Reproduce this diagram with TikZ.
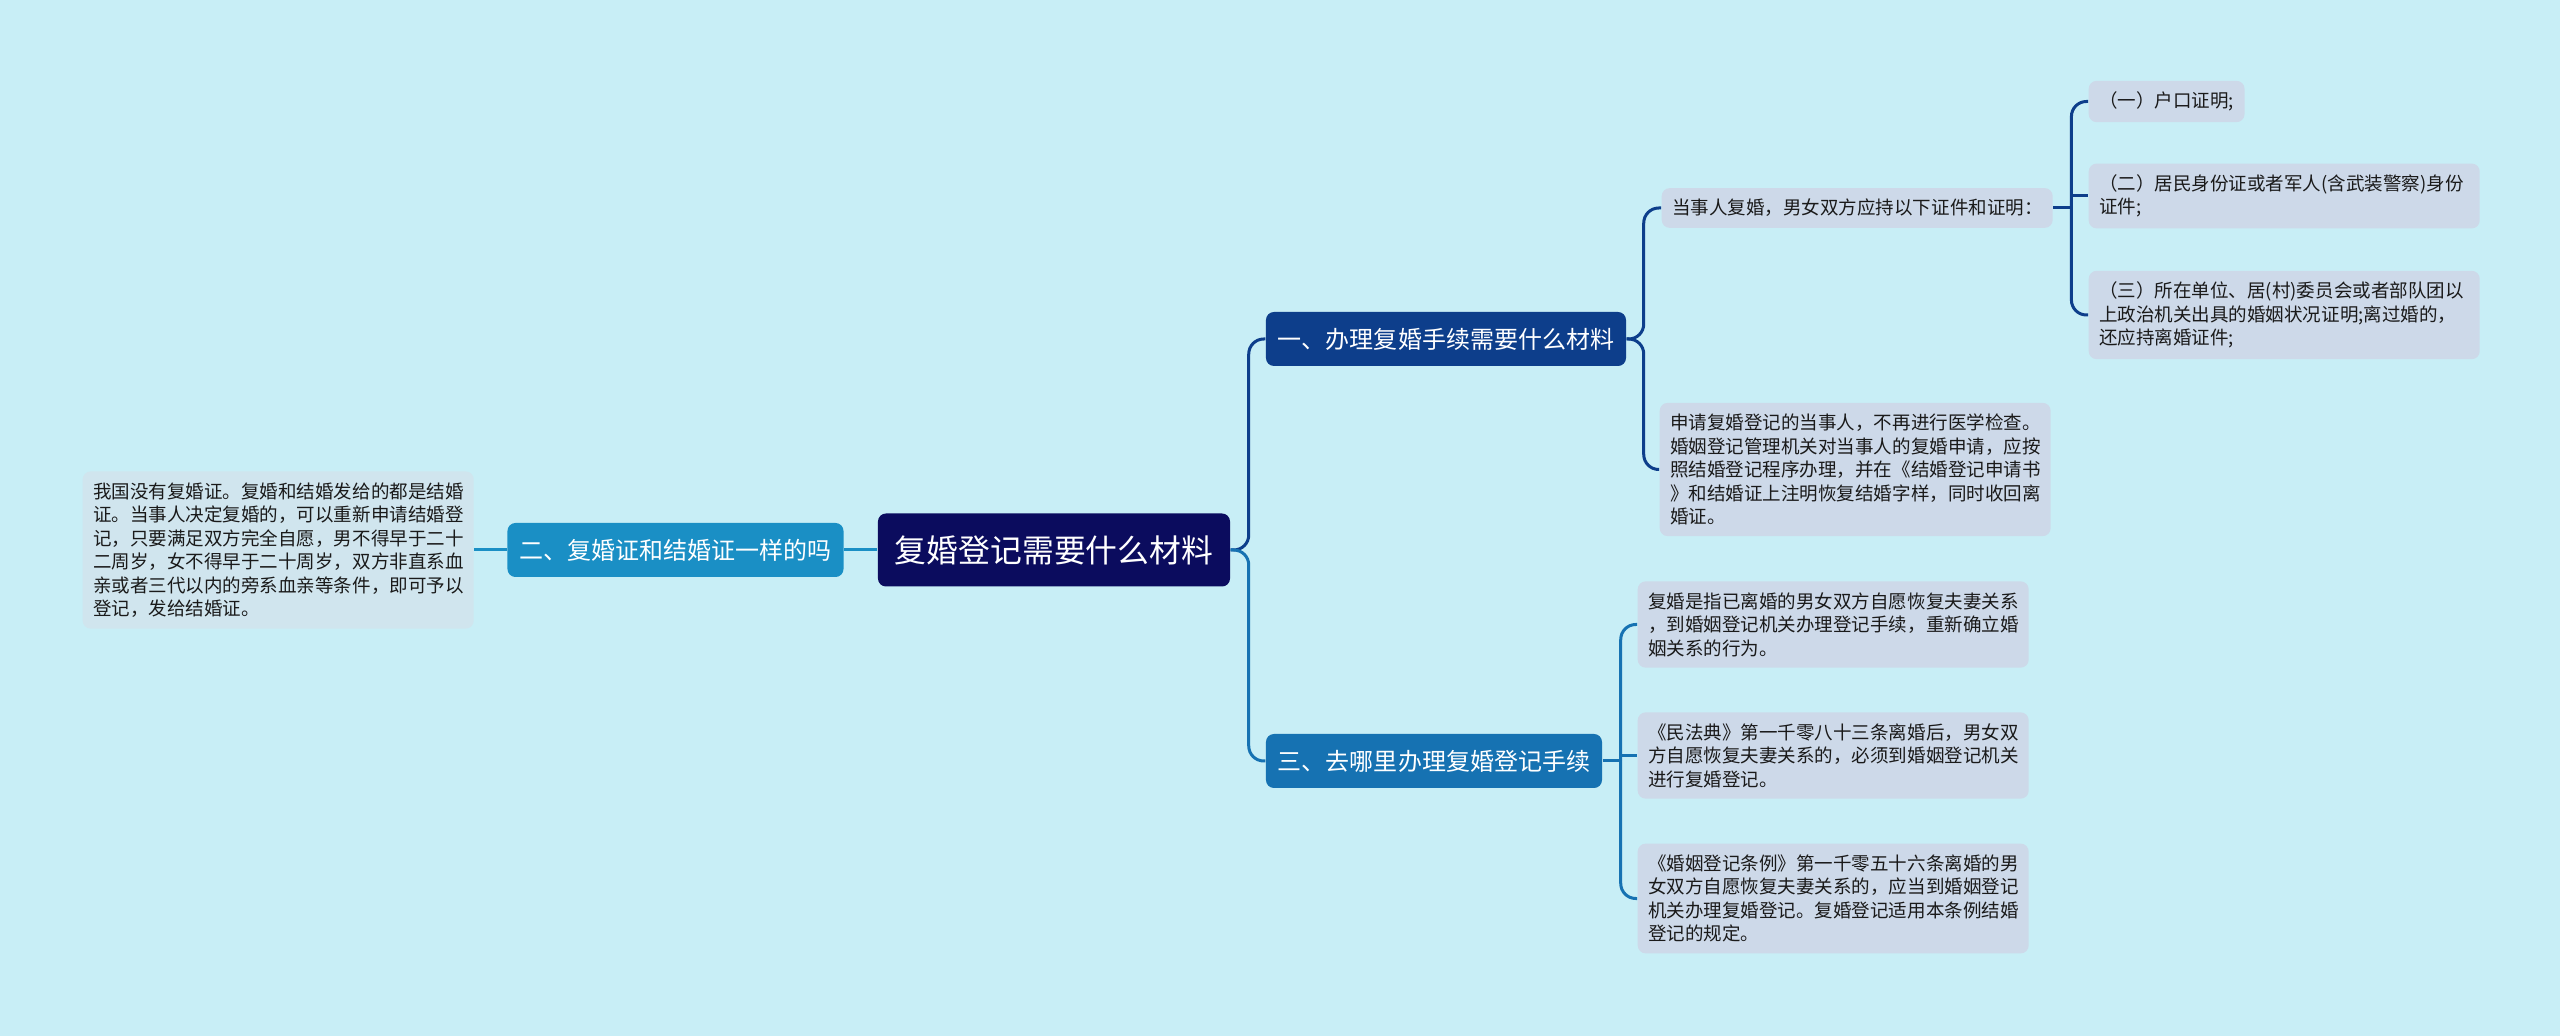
\documentclass[tikz,border=0pt]{standalone}
\usepackage{fontspec}
\setmainfont{Noto Sans CJK SC}
\definecolor{bgcol}{HTML}{C8EEF6}
\definecolor{rootcol}{HTML}{0B0C5E}
\definecolor{onecol}{HTML}{0D3E8B}
\definecolor{twocol}{HTML}{1A8FC5}
\definecolor{threecol}{HTML}{1672B2}
\definecolor{leafcol}{HTML}{CDD9E9}
\definecolor{leftleafcol}{HTML}{D0E5EE}
\definecolor{txtcol}{HTML}{1A1A1A}
\begin{document}
\begin{tikzpicture}[x=0.1mm, y=-0.1mm,
  rootbox/.style={fill=rootcol, text=white, rounded corners=0.8mm, minimum height=7.3mm,
    inner xsep=1.7mm, font=\fontsize{9.05pt}{11pt}\selectfont},
  branchbox/.style={text=white, rounded corners=0.8mm, minimum height=5.4mm,
    inner xsep=1.2mm, font=\fontsize{6.83pt}{8pt}\selectfont},
  leafbox/.style={fill=leafcol, text=txtcol, rounded corners=0.8mm, anchor=west, align=left,
    inner xsep=1.05mm, inner ysep=1.1mm, font=\fontsize{5.27pt}{6.69pt}\selectfont},
  wide/.style={text width=37mm},
  link/.style={line width=0.3mm, rounded corners=1.5mm}]
% Background
\fill[bgcol] (0,0) rectangle (2560,1036);
\useasboundingbox (0,0) rectangle (2560,1036);

% Root and branches
\node[rootbox] (root) at (1054,550) {复婚登记需要什么材料};
\node[branchbox, fill=onecol] (b1) at (1446,339) {一、办理复婚手续需要什么材料};
\node[branchbox, fill=twocol] (b2) at (675.5,550) {二、复婚证和结婚证一样的吗};
\node[branchbox, fill=threecol] (b3) at (1434,761) {三、去哪里办理复婚登记手续};

% Left leaf
\node[leafbox, wide, fill=leftleafcol] (l21) at (82,550) {我国没有复婚证。复婚和结婚发给的都是结婚\\
证。当事人决定复婚的，可以重新申请结婚登\\
记，只要满足双方完全自愿，男不得早于二十\\
二周岁，女不得早于二十周岁，双方非直系血\\
亲或者三代以内的旁系血亲等条件，即可予以\\
登记，发给结婚证。};

% Leaves of branch one
\node[leafbox, wide] (l11) at (1661,208) {当事人复婚，男女双方应持以下证件和证明：};
\node[leafbox, wide] (l12) at (1659,469.5) {申请复婚登记的当事人，不再进行医学检查。\\
婚姻登记管理机关对当事人的复婚申请，应按\\
照结婚登记程序办理，并在《结婚登记申请书\\
》和结婚证上注明恢复结婚字样，同时收回离\\
婚证。};
\node[leafbox] (l111) at (2088,101.5) {（一）户口证明;};
\node[leafbox, wide] (l112) at (2088,196) {（二）居民身份证或者军人(含武装警察)身份\\
证件;};
\node[leafbox, wide] (l113) at (2088,315) {（三）所在单位、居(村)委员会或者部队团以\\
上政治机关出具的婚姻状况证明;离过婚的，\\
还应持离婚证件;};

% Leaves of branch three
\node[leafbox, wide] (l31) at (1637,624.5) {复婚是指已离婚的男女双方自愿恢复夫妻关系\\
，到婚姻登记机关办理登记手续，重新确立婚\\
姻关系的行为。};
\node[leafbox, wide] (l32) at (1637,755.5) {《民法典》第一千零八十三条离婚后，男女双\\
方自愿恢复夫妻关系的，必须到婚姻登记机关\\
进行复婚登记。};
\node[leafbox, wide] (l33) at (1637,898.5) {《婚姻登记条例》第一千零五十六条离婚的男\\
女双方自愿恢复夫妻关系的，应当到婚姻登记\\
机关办理复婚登记。复婚登记适用本条例结婚\\
登记的规定。};

% Fork points
\path (l11.east) ++(18,0) coordinate (f11);
\path (b3.east) ++(18,0) coordinate (f3);

% Connectors
\draw[link, onecol] (root.east) -- +(18,0) |- (b1.west);
\draw[link, threecol] (root.east) -- +(18,0) |- (b3.west);
\draw[link, twocol] (root.west) -- (b2.east);
\draw[link, twocol] (b2.west) -- (l21.east);
\foreach \n in {l11,l12}
  \draw[link, onecol] (b1.east) -- +(17,0) |- (\n.west);
\draw[link, onecol] (l11.east) -- (f11);
\foreach \n in {l111,l113}
  \draw[link, onecol] (f11) |- (\n.west);
\draw[link, onecol] (f11 |- l112.west) -- (l112.west);
\draw[link, threecol] (b3.east) -- (f3);
\foreach \n in {l31,l33}
  \draw[link, threecol] (f3) |- (\n.west);
\draw[link, threecol] (f3 |- l32.west) -- (l32.west);
\end{tikzpicture}
\end{document}
